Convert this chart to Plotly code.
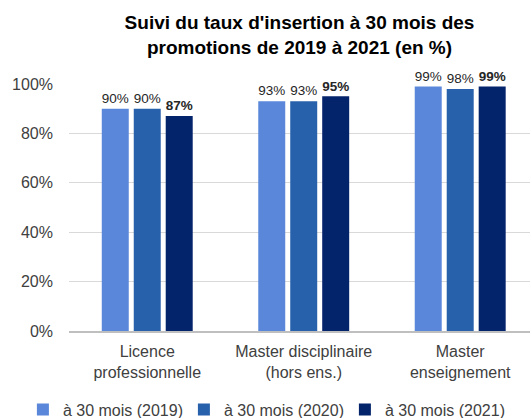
import plotly.graph_objects as go

categories = ["Licence<br>professionnelle", "Master disciplinaire<br>(hors ens.)", "Master<br>enseignement"]
series_names = ["à 30 mois (2019)", "à 30 mois (2020)", "à 30 mois (2021)"]
v2019 = [0.90, 0.93, 0.99]
v2020 = [0.90, 0.93, 0.98]
v2021 = [0.87, 0.95, 0.99]
colors = ["#5A87DA", "#2861AB", "#03236B"]

FONT = "Liberation Sans, Arial, sans-serif"

fig = go.Figure()
for name, vals, col, bold in zip(series_names, [v2019, v2020, v2021], colors, [False, False, True]):
    txt = [f"<b>{round(v*100)}%</b>" if bold else f"{round(v*100)}%" for v in vals]
    fig.add_trace(go.Bar(
        x=categories, y=vals, name=name, marker_color=col, marker_line_width=0,
        text=txt, textposition="outside", cliponaxis=False,
        textfont=dict(size=15 if bold else 14, color="#262626", family=FONT),
    ))

fig.update_layout(
    width=530, height=418,
    margin=dict(l=69, r=0, t=84, b=87, autoexpand=False),
    paper_bgcolor="white", plot_bgcolor="white",
    font=dict(family=FONT, color="#404040", size=16),
    title=dict(text="<b>Suivi du taux d'insertion à 30 mois des<br>promotions de 2019 à 2021 (en %)</b>",
               x=0.5, xref="paper", xanchor="center", yref="container", y=0.93, yanchor="middle",
               font=dict(size=19, color="#000000", family=FONT)),
    barmode="group", bargap=0.387, bargroupgap=0.156,
    showlegend=True,
    legend=dict(orientation="h", xref="paper", x=-0.1, xanchor="left",
                yref="paper", y=-0.318, yanchor="middle",
                font=dict(size=16, color="#404040", family=FONT), traceorder="normal",
                itemwidth=30, entrywidth=116, entrywidthmode="pixels"),
    uniformtext=dict(mode=False),
)
fig.update_yaxes(range=[0, 1], tickformat=".0%", dtick=0.2, showgrid=True,
                 gridcolor="#D9D9D9", gridwidth=1, zeroline=False, ticks="",
                 ticklabelstandoff=15,
                 tickfont=dict(size=16, color="#404040", family=FONT))
fig.update_xaxes(range=[-0.5, 2.446], showline=True, linecolor="#BFBFBF", linewidth=1.5, ticks="",
                 ticklabelstandoff=5,
                 tickfont=dict(size=16, color="#404040", family=FONT))

fig.write_html("out.html", config={"displayModeBar": False},
               post_script="document.body.style.margin='0';")
